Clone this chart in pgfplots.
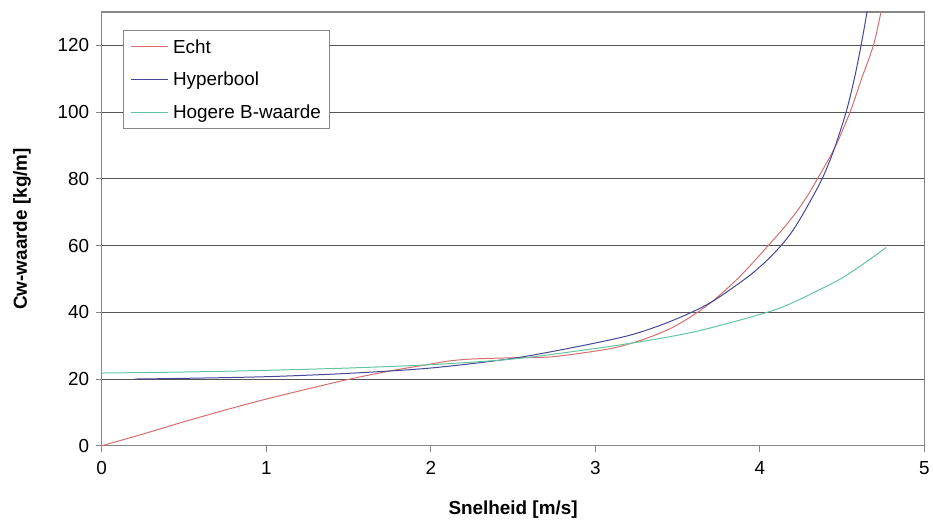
\documentclass[border=0pt]{standalone}
\usepackage{fontspec}
\setmainfont{Liberation Sans}
\usepackage{pgfplots}
\pgfplotsset{compat=1.18}
\definecolor{echtred}{RGB}{214,110,110}
\definecolor{hypblue}{RGB}{70,70,150}
\definecolor{hoggreen}{RGB}{100,196,160}
\definecolor{gridgray}{RGB}{85,85,85}
\definecolor{framegray}{RGB}{135,135,135}

\begin{document}
\begin{tikzpicture}
\begin{axis}[
    name=main,
    scale only axis,
    width=825bp, height=435bp,
    xmin=0, xmax=5,
    ymin=0, ymax=130,
    xtick={0,1,2,3,4,5},
    ytick={0,20,40,60,80,100,120},
    ymajorgrids=true,
    grid style={gridgray, line width=1bp},
    axis line style={framegray, line width=1.2bp},
    tick style={framegray, line width=1bp},
    tick align=outside,
    major tick length=6bp,
    xtick pos=bottom, ytick pos=left,
    /pgf/number format/assume math mode=true,
    tick label style={font=\fontsize{19}{22}\selectfont, black},
    xticklabel style={yshift=-6bp},
    yticklabel style={xshift=-3bp},
    xlabel={\textbf{Snelheid [m/s]}},
    ylabel={\textbf{Cw-waarde [kg/m]}},
    label style={font=\fontsize{19}{22}\selectfont},
    xlabel style={at={(axis description cs:0.5,0)}, anchor=center, yshift=-64bp},
    ylabel style={at={(axis description cs:0,0.5)}, anchor=center, yshift=80bp},
    legend style={at={(0.0255,0.9586)}, anchor=north west,
        draw=framegray, line width=1bp, fill=white,
        font=\fontsize{19}{22}\selectfont,
        inner xsep=7bp, inner ysep=7bp, row sep=13.5bp, column sep=3bp,
        cells={anchor=west}},
    legend image code/.code={\draw[#1, line width=1bp] plot coordinates {(0bp,0bp)(18bp,0bp)(37bp,0bp)};},
    every axis plot/.append style={line width=1bp, smooth, tension=0.5},
]

\addplot[color=echtred] coordinates {
    (0,0)(0.25,3.5)(0.5,7.2)(0.75,10.7)(1.0,14.0)(1.25,17.0)(1.5,19.9)
    (1.75,22.4)(2.0,24.5)(2.11,25.4)(2.25,26.0)(2.52,26.4)(2.72,26.6)
    (2.92,27.8)(3.12,29.4)(3.3,32.0)(3.463,35.3)(3.6,39.3)(3.717,43.5)
    (3.857,49.7)(3.95,54.5)(4.051,60.0)(4.14,65.0)(4.221,70.0)(4.29,75.0)
    (4.35,80.0)(4.457,89.5)(4.548,100.0)(4.618,110.0)(4.69,120.0)
    (4.736,130.0)(4.76,136.0)
};
\addlegendentry{Echt}

\addplot[color=hypblue] coordinates {
    (0.2,20.0)(0.5,20.2)(1.0,20.7)(1.5,21.7)(2.0,23.3)(2.5,26.2)
    (2.9,29.8)(3.2,33.0)(3.4,36.2)(3.576,39.8)(3.72,43.5)(3.91,50.0)
    (4.02,54.5)(4.12,59.5)(4.2,64.5)(4.28,71.0)(4.378,80.0)(4.45,88.7)
    (4.524,100.0)(4.574,110.0)(4.615,120.0)(4.651,130.0)(4.67,136.0)
};
\addlegendentry{Hyperbool}

\addplot[color=hoggreen] coordinates {
    (0,21.8)(0.5,22.1)(1.0,22.6)(1.5,23.3)(2.0,24.3)(2.5,26.0)
    (2.92,28.6)(3.2,30.6)(3.444,32.6)(3.667,34.9)(4.031,39.8)
    (4.2,42.9)(4.475,49.6)(4.62,54.2)(4.767,59.4)
};
\addlegendentry{Hogere B-waarde}

\end{axis}
\path ([shift={(-102bp,-73bp)}]main.south west) ([shift={(6bp,12bp)}]main.north east);
\end{tikzpicture}
\end{document}
